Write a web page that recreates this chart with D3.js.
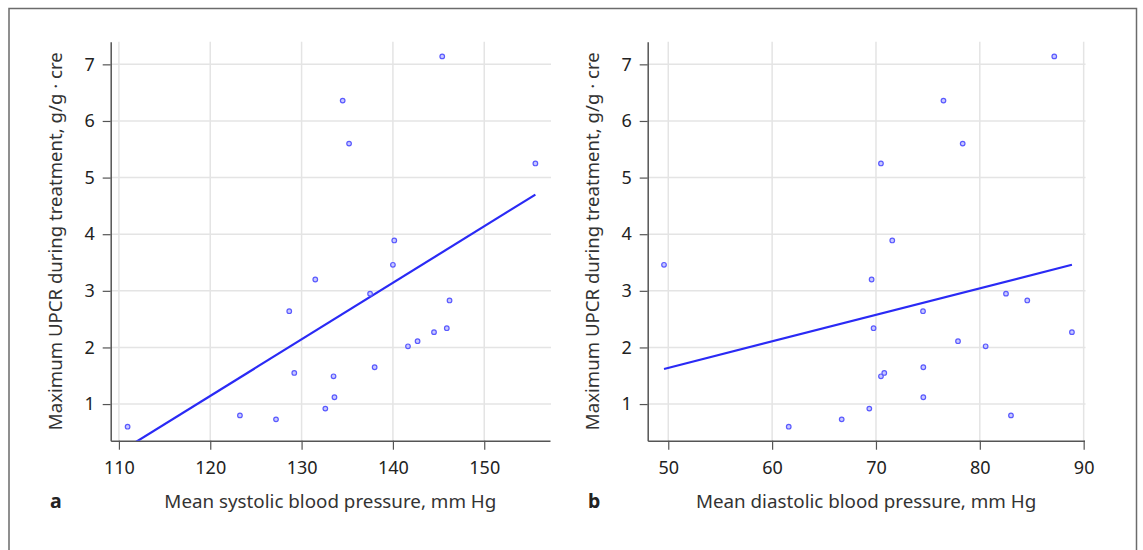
<!DOCTYPE html>
<html>
<head>
<meta charset="utf-8">
<script src="https://cdn.jsdelivr.net/npm/d3@7"></script>
<style>
  body { margin: 0; background: #fff; }
  svg { display: block; font-family: "Noto Sans", "Open Sans", sans-serif; }
</style>
</head>
<body>
<div id="chart-area"></div>
<script>
// Data: one entry per patient
var upcr = [0.60, 0.73, 0.80, 0.92, 1.12, 1.49, 1.55, 1.65, 2.02, 2.11, 2.27,
            2.34, 2.64, 2.83, 2.95, 3.20, 3.46, 3.89, 5.25, 5.60, 6.36, 7.14];
var sbp = [110.95, 127.2, 123.25, 132.6, 133.6, 133.5, 129.2, 138.0, 141.65, 142.7, 144.5,
           145.9, 128.65, 146.2, 137.5, 131.5, 140.0, 140.15, 155.6, 135.2, 134.5, 145.4];
var dbp = [61.6, 66.7, 83.0, 69.36, 74.56, 70.48, 70.8, 74.56, 80.56, 77.9, 88.87,
           69.77, 74.53, 84.57, 82.52, 69.58, 49.59, 71.57, 70.48, 78.35, 76.5, 87.17];

// regression line ends (x, y) as drawn
var fitSbpX = [110.95, 155.6];
var fitSbpY = [0.24, 4.70];
var fitDbpX = [49.59, 88.87];
var fitDbpY = [1.62, 3.46];

var sbpTicks = [110, 120, 130, 140, 150];
var dbpTicks = [50, 60, 70, 80, 90];
var upcrTicks = [1, 2, 3, 4, 5, 6, 7];

var yLabel = "Maximum UPCR during treatment, g/g \u00b7 cre";

var width = 1143, height = 550;
var top_ = 41.7, bottom = 440.7;

var svg = d3.select("#chart-area").append("svg")
  .attr("width", width)
  .attr("height", height);

// frame
svg.append("rect")
  .attr("x", 9).attr("y", 8.5)
  .attr("width", 1127.5).attr("height", 600)
  .attr("fill", "none")
  .attr("stroke", "#6b6b6b")
  .attr("stroke-width", 1.5);

var y = d3.scaleLinear().domain([0.353, 7.4]).range([bottom, top_]);

function panel(opts) {
  var x = d3.scaleLinear().domain(opts.domain).range([opts.left, opts.right]);
  var g = svg.append("g");
  var clipId = "clip-" + opts.name;

  g.append("clipPath").attr("id", clipId)
    .append("rect")
    .attr("x", opts.left).attr("y", top_)
    .attr("width", opts.right - opts.left).attr("height", bottom - top_);

  // grid
  g.selectAll(".vgrid").data(opts.ticks).enter().append("line")
    .attr("x1", (d) => x(d)).attr("x2", (d) => x(d))
    .attr("y1", top_).attr("y2", bottom)
    .attr("stroke", "#e4e4e4").attr("stroke-width", 1.5);
  g.selectAll(".hgrid").data(upcrTicks).enter().append("line")
    .attr("x1", opts.left).attr("x2", opts.right + 1)
    .attr("y1", (d) => y(d)).attr("y2", (d) => y(d))
    .attr("stroke", "#e4e4e4").attr("stroke-width", 1.5);

  // axes
  var xAxis = g.append("g")
    .attr("transform", "translate(0," + bottom + ")")
    .call(d3.axisBottom(x).tickValues(opts.ticks).tickFormat(d3.format("d"))
      .tickSize(9).tickPadding(12).tickSizeOuter(0));
  var yAxis = g.append("g")
    .attr("transform", "translate(" + opts.left + ",0)")
    .call(d3.axisLeft(y).tickValues(upcrTicks).tickFormat(d3.format("d"))
      .tickSize(8).tickPadding(8).tickSizeOuter(0));

  [xAxis, yAxis].forEach((a) => {
    a.select(".domain").attr("stroke", "#555").attr("stroke-width", 1.5);
    a.selectAll(".tick line").attr("stroke", "#555").attr("stroke-width", 1.2);
    a.selectAll("text").attr("fill", "#222").style("font-size", "18px")
      .style("font-family", "'Noto Sans', sans-serif");
  });

  // fit line
  var fit = opts.fitX.map((d, i) => [d, opts.fitY[i]]);
  g.append("path")
    .datum(fit)
    .attr("clip-path", "url(#" + clipId + ")")
    .attr("d", d3.line().x((d) => x(d[0])).y((d) => y(d[1])))
    .attr("fill", "none")
    .attr("stroke", "#2a2af5")
    .attr("stroke-width", 2.2);

  // points
  g.selectAll("circle").data(opts.xs).enter().append("circle")
    .attr("cx", (d) => x(d))
    .attr("cy", (d, i) => y(upcr[i]))
    .attr("r", 2.3)
    .attr("fill", "#c9c9ff")
    .attr("stroke", "#5a5aff")
    .attr("stroke-width", 1.2);

  // labels
  g.append("text")
    .attr("x", (opts.left + opts.right) / 2)
    .attr("y", 508)
    .attr("text-anchor", "middle")
    .attr("fill", "#333")
    .style("font-size", "18.8px")
    .text(opts.xLabel);

  g.append("text")
    .attr("transform", "rotate(-90)")
    .attr("x", -(top_ + bottom) / 2)
    .attr("y", opts.left - 49)
    .attr("text-anchor", "middle")
    .attr("fill", "#333")
    .style("font-size", "18.6px")
    .text(yLabel);

  g.append("text")
    .attr("x", opts.letterX)
    .attr("y", 508)
    .attr("fill", "#222")
    .style("font-size", "19.5px")
    .style("font-weight", "bold")
    .text(opts.name);
}

panel({
  name: "a", left: 110.7, right: 550, domain: [109.1, 157.2],
  ticks: sbpTicks, xs: sbp, fitX: fitSbpX, fitY: fitSbpY,
  xLabel: "Mean systolic blood pressure, mm Hg", letterX: 50
});

panel({
  name: "b", left: 647.7, right: 1084.5, domain: [48.02, 90.08],
  ticks: dbpTicks, xs: dbp, fitX: fitDbpX, fitY: fitDbpY,
  xLabel: "Mean diastolic blood pressure, mm Hg", letterX: 588
});
</script>
</body>
</html>
